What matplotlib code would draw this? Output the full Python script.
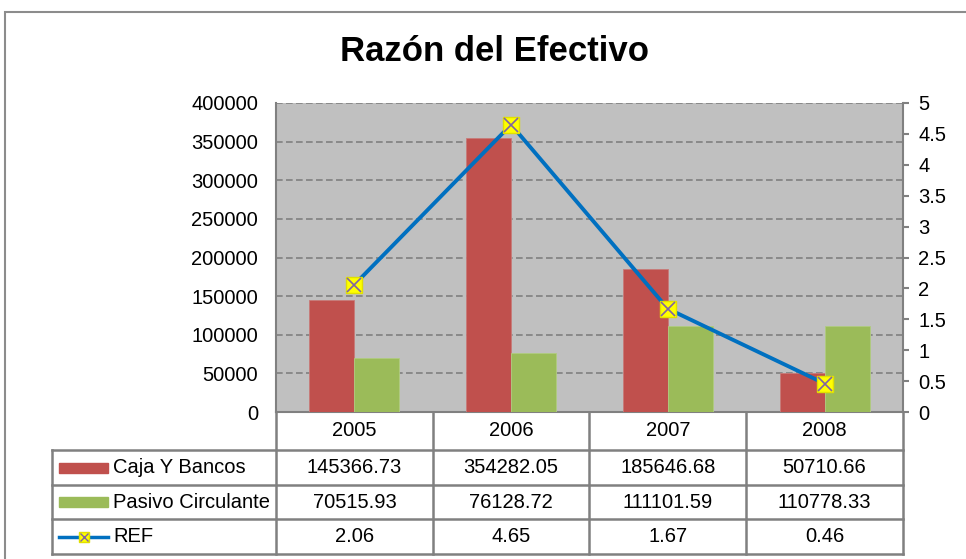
import numpy as np
import matplotlib
matplotlib.use("Agg")
import matplotlib.pyplot as plt
from matplotlib.lines import Line2D
from matplotlib.patches import Rectangle
from matplotlib.transforms import blended_transform_factory

plt.rcParams["font.family"] = ["Liberation Sans", "DejaVu Sans"]

# data
years = ["2005", "2006", "2007", "2008"]
caja_bancos = [145366.73, 354282.05, 185646.68, 50710.66]
pasivo_circulante = [70515.93, 76128.72, 111101.59, 110778.33]
ref = [2.06, 4.65, 1.67, 0.46]
series_names = ["Caja Y Bancos", "Pasivo Circulante", "REF"]

W, H = 966, 559
RED = "#C0504D"
GREEN = "#9BBB59"
BLUE = "#0070C0"
GRID = "#808080"
FS = 14.5


def fx(px):
    return px / W


def fy(py):
    return 1 - py / H


fig = plt.figure(figsize=(W / 100, H / 100), dpi=100)

# chart border (runs off the right and bottom edge)
fig.add_artist(Rectangle((fx(5), fy(575)), fx(980), (575 - 12) / H,
                         transform=fig.transFigure, fill=False,
                         edgecolor="#8C8C8C", lw=1.5))

fig.text(fx(495), fy(52), "Razón del Efectivo", ha="center", va="center",
         fontsize=25, fontweight="bold")

ax = fig.add_axes([fx(276), fy(412), (903 - 276) / W, (412 - 103) / H])
ax.set_facecolor("#C0C0C0")
x = np.arange(len(years))
bw = 0.287
ax.bar(x - bw / 2, caja_bancos, bw, color=RED, edgecolor="#C87A78", lw=0.6, zorder=3)
ax.bar(x + bw / 2, pasivo_circulante, bw, color=GREEN, edgecolor="#B0CC80", lw=0.6, zorder=3)
ax.set_xlim(-0.5, 3.5)
ax.set_ylim(0, 400000)
ax.set_yticks(np.arange(0, 400001, 50000))
ax.set_yticklabels([f"{int(v)}" for v in np.arange(0, 400001, 50000)], fontsize=FS)
ax.tick_params(axis="y", length=0, pad=13)
ax.set_xticks([])
ax.yaxis.grid(True, color=GRID, ls=(0, (4, 2)), lw=1.2, zorder=0)
ax.set_axisbelow(True)
for s in ["top", "right"]:
    ax.spines[s].set_visible(False)
ax.spines["left"].set_color(GRID)
ax.spines["left"].set_linewidth(1.5)
ax.spines["bottom"].set_color(GRID)
ax.spines["bottom"].set_linewidth(1.5)

ax2 = ax.twinx()
ax2.set_ylim(0, 5)
rt = np.arange(0, 5.01, 0.5)
ax2.set_yticks(rt)
ax2.set_yticklabels([f"{v:g}" for v in rt], fontsize=FS)
ax2.tick_params(axis="y", length=4, width=1.5, color=GRID, pad=7)
for s in ["top", "left", "bottom"]:
    ax2.spines[s].set_visible(False)
ax2.spines["right"].set_color(GRID)
ax2.spines["right"].set_linewidth(1.5)
ax2.plot(x, ref, color=BLUE, lw=2.8, zorder=4)
ax2.plot(x, ref, ls="none", marker="s", ms=11, mfc="yellow", mec="#E0E000", zorder=5)
ax2.plot(x, ref, ls="none", marker="x", ms=10, mew=1.2, color="#8064A2", zorder=6)

# data table under the plot
tr = blended_transform_factory(ax.transData, fig.transFigure)
edges = np.arange(-0.5, len(years), 1.0)
row_y = [412, 450, 485, 519, 554]
left_px = 52
lkw = dict(color=GRID, lw=1.8, solid_capstyle="projecting")

for e in edges:
    fig.add_artist(Line2D([e, e], [fy(412), fy(554)], transform=tr, **lkw))
fig.add_artist(Line2D([fx(left_px), fx(left_px)], [fy(450), fy(554)], **lkw))
for yy in row_y[1:]:
    fig.add_artist(Line2D([fx(left_px), ax.transAxes.transform((1, 0))[0] / W],
                          [fy(yy), fy(yy)], **lkw))

rows = [caja_bancos, pasivo_circulante, ref]
mids = [(row_y[i] + row_y[i + 1]) / 2 for i in range(4)]
for i, yr in enumerate(years):
    fig.text(i, fy(mids[0]), yr, transform=tr, ha="center", va="center", fontsize=FS)
    for r, vals in enumerate(rows):
        fig.text(i, fy(mids[r + 1]), f"{vals[i]:.2f}", transform=tr,
                 ha="center", va="center", fontsize=FS)

# legend keys inside the table
for r, name in enumerate(series_names):
    ym = fy(mids[r + 1])
    fig.text(fx(113), ym, name, ha="left", va="center", fontsize=FS)
    if r < 2:
        fig.add_artist(Rectangle((fx(59), ym - 5 / H), fx(49), 10 / H,
                                 transform=fig.transFigure,
                                 color=RED if r == 0 else GREEN))
    else:
        fig.add_artist(Line2D([fx(59), fx(108)], [ym, ym], color=BLUE, lw=2.5))
        fig.add_artist(Line2D([fx(84)], [ym], marker="s", ms=7, mfc="yellow",
                              mec="#E0E000", ls="none"))
        fig.add_artist(Line2D([fx(84)], [ym], marker="x", ms=6, mew=1,
                              color="#8064A2", ls="none"))

fig.savefig("out.png", dpi=100)
